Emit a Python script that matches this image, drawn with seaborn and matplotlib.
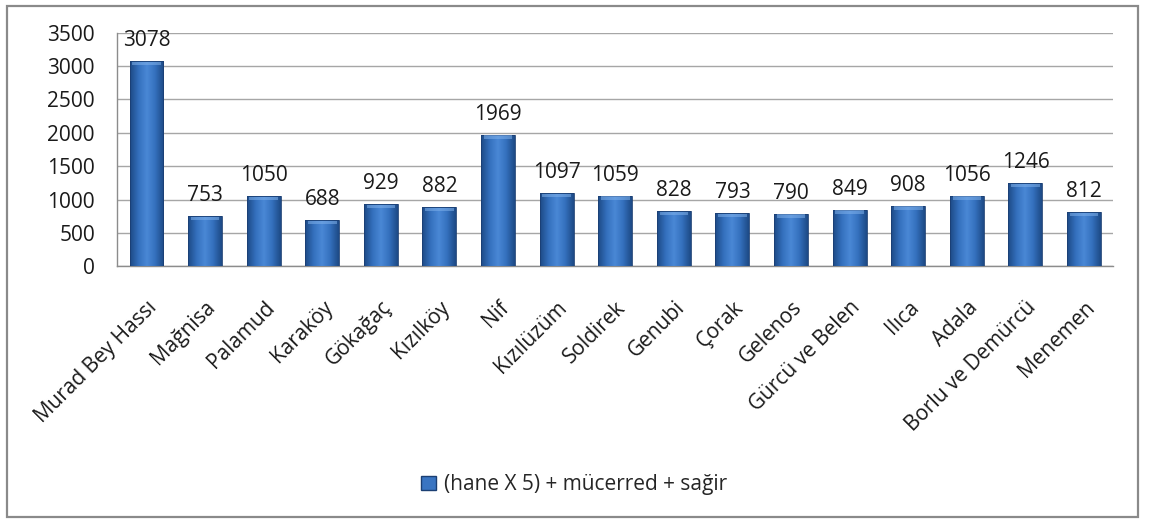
import numpy as np
import pandas as pd
import matplotlib
matplotlib.use("Agg")
import matplotlib.pyplot as plt
from matplotlib.patches import Rectangle
from matplotlib.colors import LinearSegmentedColormap
import seaborn as sns

villages = ["Murad Bey Hassı", "Mağnisa", "Palamud", "Karaköy", "Gökağaç", "Kızılköy",
            "Nif", "Kızılüzüm", "Soldirek", "Genubi", "Çorak", "Gelenos",
            "Gürcü ve Belen", "Ilıca", "Adala", "Borlu ve Demürcü", "Menemen"]
population = [3078, 753, 1050, 688, 929, 882, 1969, 1097, 1059, 828, 793, 790,
              849, 908, 1056, 1246, 812]
series_name = "(hane X 5) + mücerred + sağir"
y_ticks = [0, 500, 1000, 1500, 2000, 2500, 3000, 3500]

sns.set_theme(style="white")
plt.rcParams["font.family"] = ["Open Sans", "DejaVu Sans"]

df = pd.DataFrame({"village": villages, "value": population})

fig = plt.figure(figsize=(11.49, 5.20), dpi=100)
ax = fig.add_axes([0.102, 0.488, 0.867, 0.449])

sns.barplot(data=df, x="village", y="value", color="#3a75c2", width=0.58,
            saturation=1, ax=ax, zorder=3)

# Bevelled bar look: horizontal shading plus a lighter cap on top
shade = LinearSegmentedColormap.from_list(
    "bevel", ["#1d4a86", "#3470bd", "#4a88d6", "#3470bd", "#1d4a86"])
xs = np.linspace(0, 1, 64)[None, :]
for bar in ax.patches:
    x0, w, h = bar.get_x(), bar.get_width(), bar.get_height()
    bar.set_facecolor("none")
    bar.set_edgecolor("#1b3f73")
    bar.set_linewidth(0.6)
    img = ax.imshow(xs, cmap=shade, aspect="auto", extent=(x0, x0 + w, 0, h),
                    zorder=2.9, interpolation="bicubic")
    img.set_clip_path(bar)
    cap = 60
    ax.add_patch(Rectangle((x0 + w * 0.08, h - cap), w * 0.84, cap * 0.85,
                           facecolor="#7fb0ea", edgecolor="none", alpha=0.55,
                           zorder=3.1))

for i, v in enumerate(population):
    ax.text(i, v + 150, f"{v}", ha="center", va="bottom", fontsize=15,
            color="#1a1a1a", zorder=4)

ax.set_ylim(0, 3500)
ax.set_xlim(-0.5, len(villages) - 0.5)
ax.set_yticks(y_ticks)
ax.set_yticklabels([str(t) for t in y_ticks], fontsize=15, color="#1a1a1a")
ax.yaxis.grid(True, color="#a6a6a6", linewidth=1.0, zorder=0)
ax.set_axisbelow(True)
ax.set_xticks(range(len(villages)))
ax.set_xticklabels(villages, rotation=45, ha="right", rotation_mode="anchor",
                   fontsize=15, color="#1a1a1a")
ax.tick_params(axis="x", length=0, pad=22)
ax.tick_params(axis="y", length=0, pad=16)
ax.set_xlabel("")
ax.set_ylabel("")
for side in ["top", "right"]:
    ax.spines[side].set_visible(False)
for side in ["left", "bottom"]:
    ax.spines[side].set_color("#8c8c8c")
    ax.spines[side].set_linewidth(1.0)

# Legend entry below the chart
handle = Rectangle((0, 0), 1, 1, facecolor="#3a75c2", edgecolor="#1b3f73")
fig.legend([handle], [series_name], loc="center", bbox_to_anchor=(0.5, 0.068),
           frameon=False, fontsize=15, handlelength=0.7, handleheight=0.7,
           handletextpad=0.4)

# Chart frame
fig.add_artist(Rectangle((7 / 1149, 3 / 520), 1131 / 1149, 511 / 520,
                         transform=fig.transFigure, fill=False,
                         edgecolor="#8a8a8a", linewidth=1.6))

fig.savefig("out.png", dpi=100, facecolor="white")
